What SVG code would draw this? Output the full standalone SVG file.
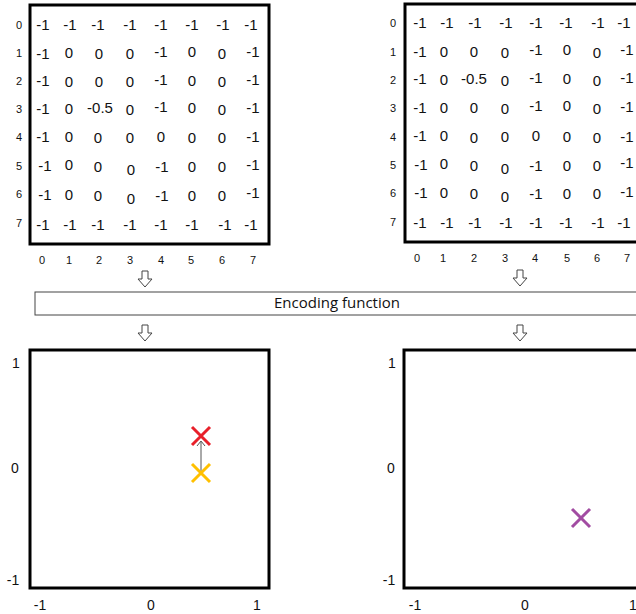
<svg xmlns="http://www.w3.org/2000/svg" width="636" height="614" viewBox="0 0 636 614">
<style>
.box{fill:#fff;stroke:#000;stroke-width:3}
.v{font-family:"Liberation Sans",Arial,sans-serif;font-size:15px;fill:#111;text-anchor:middle}
.lbl{font-family:"Liberation Sans",Arial,sans-serif;font-size:11px;fill:#111;text-anchor:middle}
.ax{font-family:"Liberation Sans",Arial,sans-serif;font-size:14px;fill:#111;text-anchor:middle}
.arr{fill:#fff;stroke:#444;stroke-width:1}
.enc{fill:#fff;stroke:#444;stroke-width:1}
.et{font-family:"Open Sans","Liberation Sans",sans-serif;font-size:15px;fill:#111;text-anchor:middle}
</style>
<defs>
<path id="dn" d="M-3,0 h6 v8 h4 l-7,8 l-7,-8 h4 z"/>
</defs>
<rect width="636" height="614" fill="#fff"/>

<g id="gridA">
<rect class="box" x="30" y="5" width="239" height="239"/>
<g class="lbl">
<text x="19" y="29">0</text><text x="19" y="57">1</text><text x="19" y="85">2</text><text x="19" y="113">3</text><text x="19" y="141">4</text><text x="19" y="170">5</text><text x="19" y="198">6</text><text x="19" y="227">7</text>
<text x="42" y="264">0</text><text x="69" y="264">1</text><text x="99" y="264">2</text><text x="130" y="264">3</text><text x="161" y="264">4</text><text x="191" y="264">5</text><text x="222" y="264">6</text><text x="253" y="264">7</text>
</g>
<g class="v">
<text x="43" y="30">-1</text><text x="70" y="30">-1</text><text x="98" y="30">-1</text><text x="130" y="30">-1</text><text x="161" y="30">-1</text><text x="192" y="30">-1</text><text x="223" y="30">-1</text><text x="251" y="30">-1</text>
<text x="43" y="59">-1</text><text x="69" y="58">0</text><text x="99" y="59">0</text><text x="130" y="59">0</text><text x="161" y="57">-1</text><text x="192" y="57">0</text><text x="222" y="59">0</text><text x="253" y="57">-1</text>
<text x="43" y="86">-1</text><text x="69" y="87">0</text><text x="99" y="87">0</text><text x="130" y="87">0</text><text x="161" y="85">-1</text><text x="192" y="86">0</text><text x="222" y="87">0</text><text x="253" y="85">-1</text>
<text x="43" y="114">-1</text><text x="69" y="114">0</text><text x="100" y="113">-0.5</text><text x="130" y="115">0</text><text x="161" y="112">-1</text><text x="192" y="113">0</text><text x="222" y="115">0</text><text x="253" y="113">-1</text>
<text x="43" y="142">-1</text><text x="69" y="142">0</text><text x="98" y="143">0</text><text x="130" y="143">0</text><text x="161" y="142">0</text><text x="192" y="143">0</text><text x="222" y="143">0</text><text x="253" y="142">-1</text>
<text x="45" y="171">-1</text><text x="69" y="170">0</text><text x="98" y="172">0</text><text x="131" y="175">0</text><text x="162" y="172">-1</text><text x="192" y="172">0</text><text x="222" y="172">0</text><text x="253" y="170">-1</text>
<text x="45" y="200">-1</text><text x="69" y="200">0</text><text x="98" y="201">0</text><text x="131" y="204">0</text><text x="162" y="201">-1</text><text x="192" y="201">0</text><text x="222" y="201">0</text><text x="253" y="198">-1</text>
<text x="43" y="230">-1</text><text x="70" y="230">-1</text><text x="98" y="230">-1</text><text x="130" y="230">-1</text><text x="161" y="230">-1</text><text x="192" y="230">-1</text><text x="225" y="230">-1</text><text x="251" y="230">-1</text>
</g>
</g>

<g id="gridB">
<rect class="box" x="405" y="4" width="240" height="238"/>
<g class="lbl">
<text x="393" y="27">0</text><text x="393" y="56">1</text><text x="393" y="84">2</text><text x="393" y="112">3</text><text x="393" y="141">4</text><text x="393" y="169">5</text><text x="393" y="197">6</text><text x="393" y="226">7</text>
<text x="417" y="262">0</text><text x="443" y="262">1</text><text x="474" y="262">2</text><text x="505" y="262">3</text><text x="535" y="262">4</text><text x="567" y="262">5</text><text x="597" y="262">6</text><text x="627" y="262">7</text>
</g>
<g class="v">
<text x="420" y="28">-1</text><text x="447" y="28">-1</text><text x="475" y="28">-1</text><text x="506" y="28">-1</text><text x="536" y="28">-1</text><text x="566" y="28">-1</text><text x="598" y="28">-1</text><text x="624" y="28">-1</text>
<text x="420" y="57">-1</text><text x="444" y="57">0</text><text x="474" y="57">0</text><text x="505" y="58">0</text><text x="536" y="55">-1</text><text x="567" y="55">0</text><text x="597" y="58">0</text><text x="627" y="55">-1</text>
<text x="420" y="84">-1</text><text x="444" y="85">0</text><text x="474" y="84">-0.5</text><text x="505" y="86">0</text><text x="536" y="83">-1</text><text x="567" y="84">0</text><text x="597" y="86">0</text><text x="627" y="83">-1</text>
<text x="420" y="113">-1</text><text x="444" y="113">0</text><text x="474" y="113">0</text><text x="505" y="114">0</text><text x="536" y="111">-1</text><text x="567" y="111">0</text><text x="597" y="114">0</text><text x="627" y="112">-1</text>
<text x="420" y="141">-1</text><text x="444" y="141">0</text><text x="474" y="143">0</text><text x="505" y="142">0</text><text x="536" y="141">0</text><text x="567" y="142">0</text><text x="597" y="143">0</text><text x="627" y="142">-1</text>
<text x="421" y="170">-1</text><text x="444" y="169">0</text><text x="474" y="171">0</text><text x="505" y="174">0</text><text x="536" y="171">-1</text><text x="567" y="171">0</text><text x="597" y="171">0</text><text x="627" y="168">-1</text>
<text x="421" y="198">-1</text><text x="444" y="198">0</text><text x="474" y="199">0</text><text x="505" y="202">0</text><text x="536" y="199">-1</text><text x="567" y="199">0</text><text x="597" y="199">0</text><text x="627" y="197">-1</text>
<text x="420" y="228">-1</text><text x="447" y="228">-1</text><text x="475" y="228">-1</text><text x="506" y="228">-1</text><text x="536" y="228">-1</text><text x="566" y="228">-1</text><text x="598" y="228">-1</text><text x="624" y="228">-1</text>
</g>
</g>

<g id="encoder">
<rect class="enc" x="35" y="292" width="610" height="23"/>
<text class="et" x="337" y="308">Encoding function</text>
</g>

<g id="connectors">
<use href="#dn" class="arr" x="145" y="271"/>
<use href="#dn" class="arr" x="520" y="270"/>
<use href="#dn" class="arr" x="145" y="325"/>
<use href="#dn" class="arr" x="520" y="325"/>
</g>

<g id="plotA">
<rect class="box" x="30" y="350" width="239" height="238"/>
<g class="ax">
<text x="16" y="368">1</text><text x="15" y="473">0</text><text x="13" y="585">-1</text>
<text x="40" y="610">-1</text><text x="151" y="610">0</text><text x="257" y="610">1</text>
</g>
<line x1="201" y1="471" x2="201" y2="442" stroke="#555" stroke-width="1"/>
<path d="M197,446 L201,441 L205,446" fill="none" stroke="#555" stroke-width="1"/>
<path d="M192,427 L210,445 M210,427 L192,445" stroke="#e8202a" stroke-width="3" fill="none"/>
<path d="M192,464 L210,482 M210,464 L192,482" stroke="#ffc000" stroke-width="3" fill="none"/>
</g>

<g id="plotB">
<rect class="box" x="404" y="350" width="240" height="238"/>
<g class="ax">
<text x="392" y="368">1</text><text x="391" y="473">0</text><text x="389" y="585">-1</text>
<text x="415" y="610">-1</text><text x="525" y="610">0</text><text x="633" y="610">1</text>
</g>
<path d="M572,509 L590,527 M590,509 L572,527" stroke="#a24ca2" stroke-width="3" fill="none"/>
</g>
</svg>
